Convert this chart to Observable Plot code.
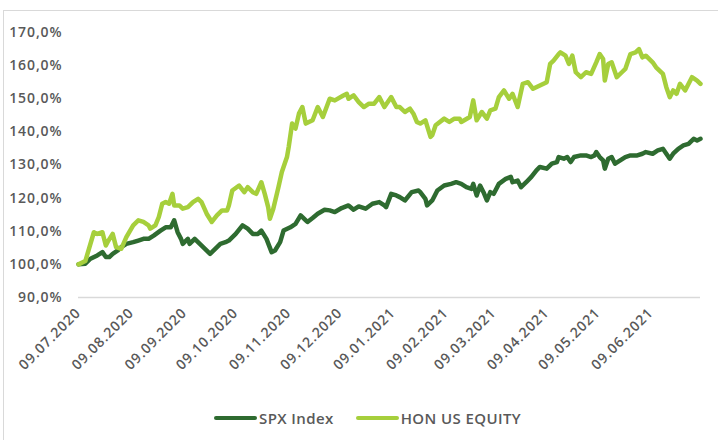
<!DOCTYPE html>
<html>
<head>
<meta charset="utf-8">
<script src="https://cdn.jsdelivr.net/npm/d3@7"></script>
<script src="https://cdn.jsdelivr.net/npm/@observablehq/plot@0.6"></script>
<style>
  html, body { margin: 0; padding: 0; background: #fff; overflow: hidden; width: 718px; height: 440px; }
  #frame { position: absolute; left: 3px; top: 10px; width: 760px; height: 480px; border: 1.5px solid #d9d9d9; box-sizing: border-box; }
  #chart { position: absolute; left: 0; top: 0; }
  #legend { position: absolute; left: 214px; top: 408px; display: flex; align-items: center; font-family: "Open Sans", sans-serif; font-weight: 600; font-size: 15px; letter-spacing: 0.4px; color: #595959; }
  .item { display: flex; align-items: center; margin-right: 22px; }
  .sw { width: 43px; height: 4px; border-radius: 2px; margin-right: 2px; }
</style>
</head>
<body>
<div id="frame"></div>
<div id="chart"></div>
<div id="legend"></div>
<script>
// Series names and colours
const seriesNames = ["SPX Index", "HON US EQUITY"];
const seriesColors = ["#2e6b30", "#a6cf3c"];

// X tick labels (dates)
const tickLabels = ["09.07.2020","09.08.2020","09.09.2020","09.10.2020","09.11.2020","09.12.2020",
  "09.01.2021","09.02.2021","09.03.2021","09.04.2021","09.05.2021","09.06.2021"];
// Y tick values (%)
const yTicks = [90, 100, 110, 120, 130, 140, 150, 160, 170];
// Last day of the period (days after 09.07.2020)
const lastDay = 364;

// Day offsets from 09.07.2020 and values (%) for SPX Index
const spxDays = [0,4,7,11,14,16,18,20,23,25,28,32,35,38,41,44,48,51,54,56,58,60,61,64,65,68,71,74,77,80,83,86,88,92,96,99,102,105,107,110,113,115,118,120,124,127,130,133,134,137,140,144,147,150,154,158,161,164,168,172,176,179,180,183,186,188,191,195,199,200,203,204,207,210,214,218,221,224,227,230,231,233,235,237,239,241,243,246,250,253,254,257,259,262,265,268,270,274,277,280,281,284,286,288,290,294,297,300,302,303,305,307,308,310,312,314,317,320,323,327,330,332,336,339,342,344,346,348,351,354,357,360,362,364];
const spxValues = [100,100.2,101.7,102.7,103.7,102.2,102.2,103.2,104.2,105.2,106.2,106.7,107.2,107.7,107.7,108.7,110.2,111.2,111.2,113.3,109.7,107.7,106.2,107.7,106.2,107.7,106.2,104.7,103.2,104.7,106.2,106.7,107.2,109.2,111.8,110.8,109.2,109.2,110.2,107.7,103.7,104.2,106.7,110.2,111.2,112.2,114.8,113.3,112.8,114.0,115.3,116.5,116.3,115.8,117.0,117.8,116.5,117.5,116.8,118.3,118.8,117.8,117.3,121.3,120.8,120.3,119.3,121.8,122.3,121.8,119.8,117.8,119.3,122.3,123.8,124.3,124.8,124.3,123.3,122.8,124.3,120.8,123.8,121.8,119.3,121.8,121.3,124.3,125.8,126.4,124.8,125.3,123.3,124.8,126.4,128.4,129.4,128.9,130.4,130.9,132.4,131.9,132.4,130.9,132.4,132.9,132.9,132.4,132.9,133.9,132.4,131.4,128.9,131.9,132.4,130.4,131.4,132.4,132.9,132.9,133.4,133.9,133.4,134.4,134.9,133.4,131.9,133.4,134.9,135.9,136.4,137.9,137.4,137.9];

// Day offsets from 09.07.2020 and values (%) for HON US EQUITY
const honDays = [0,4,9,11,14,16,17,20,22,25,28,32,35,38,41,42,45,47,49,51,53,55,56,59,61,64,67,70,72,75,78,81,84,87,88,90,94,97,99,102,104,107,109,111,112,114,117,119,122,123,125,127,129,131,133,137,140,143,147,150,155,157,158,161,164,167,170,173,176,179,183,186,188,191,194,196,198,200,203,206,207,209,214,217,220,223,224,229,231,233,236,239,241,244,246,249,252,254,257,260,263,266,270,274,276,278,281,282,285,287,289,291,294,297,300,303,305,307,308,310,312,315,318,320,323,326,328,330,332,336,338,342,344,346,348,350,352,355,359,362,364];
const honValues = [100,101,109.7,109.2,109.7,105.7,106.7,109.2,105.2,104.7,108.2,111.8,113.3,112.8,111.8,110.8,111.8,114.3,118.3,118.8,118.3,121.3,117.8,117.8,116.8,117.3,118.8,119.8,118.8,115.3,112.8,114.8,116.3,116.3,117.8,122.3,123.8,121.8,123.3,121.8,121.3,124.8,121.3,117.3,113.8,116.8,123.3,127.9,132.4,135.4,142.5,141,145.5,147.5,142.5,143.5,147.5,144.5,150,149.5,151,151.5,150,151,149,147.5,148.5,148.5,150.5,147.5,150.5,147.5,147.5,146,147,145.5,143,142.5,143.5,138.5,139,142,144,143,144,144,143,144.5,149.5,143.5,146,144,146.5,147,150.5,152.5,150,151.5,147.5,154.5,155,153,154,155,160.5,161.5,163.5,164,163,160.5,163,158,156.5,158,157.5,161,163.5,162,155.5,160.5,161,156.5,158,159,163.5,164,165,162.5,163,161,159.5,157.5,153.5,150.5,152.5,151.5,154.5,152.5,156.5,155.5,154.5];

const start = Date.UTC(2020, 6, 9);
const toDate = d => new Date(start + d * 864e5);
const parse = d3.utcParse("%d.%m.%Y");
const fmtDate = d3.utcFormat("%d.%m.%Y");

const rows = [];
spxDays.forEach((d, i) => rows.push({series: seriesNames[0], date: toDate(d), value: spxValues[i]}));
honDays.forEach((d, i) => rows.push({series: seriesNames[1], date: toDate(d), value: honValues[i]}));

const chart = Plot.plot({
  width: 718,
  height: 400,
  marginLeft: 78,
  marginRight: 18,
  marginTop: 32,
  marginBottom: 103,
  style: {fontFamily: "'Open Sans', sans-serif", fontSize: "14px", fontWeight: 600, color: "#595959", background: "transparent", letterSpacing: "0.9px"},
  x: {type: "utc", domain: [toDate(0), toDate(lastDay)]},
  y: {domain: [90, 170]},
  color: {domain: seriesNames, range: seriesColors},
  marks: [
    Plot.ruleY([90], {stroke: "#d9d9d9", strokeWidth: 1.5}),
    Plot.axisY({ticks: yTicks, tickSize: 0, tickPadding: 16, label: null,
      tickFormat: v => v.toFixed(1).replace(".", ",") + "%"}),
    Plot.axisX({ticks: tickLabels.map(parse), tickSize: 0, tickPadding: 13, tickRotate: -45, label: null,
      tickFormat: fmtDate}),
    Plot.lineY(rows, {x: "date", y: "value", z: "series", stroke: "series",
      strokeWidth: 4.5, strokeLinejoin: "round", strokeLinecap: "round"})
  ]
});
document.getElementById("chart").appendChild(chart);

const legend = document.getElementById("legend");
seriesNames.forEach((n, i) => {
  const it = document.createElement("div");
  it.className = "item";
  it.innerHTML = `<span class="sw" style="background:${seriesColors[i]}"></span><span>${n}</span>`;
  legend.appendChild(it);
});
</script>
</body>
</html>
